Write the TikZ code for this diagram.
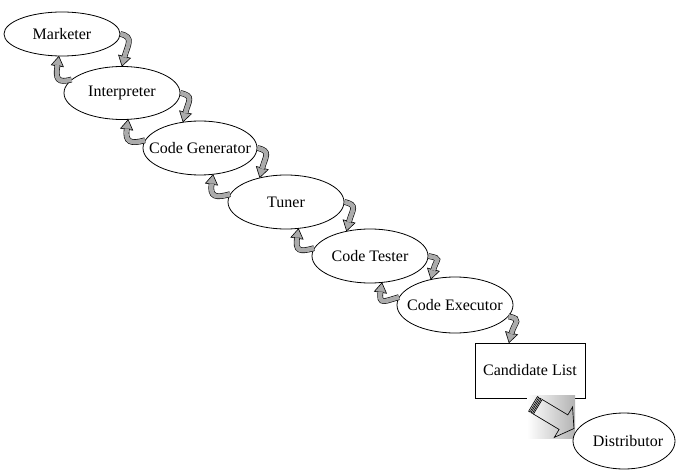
\documentclass[tikz,border=0pt]{standalone}
\usepackage{fontspec}
\setmainfont{Liberation Serif}
\usetikzlibrary{calc,shapes.geometric}

\tikzset{
  stage/.style={ellipse, draw, line width=0.6pt, fill=white, inner sep=0pt,
    minimum width=87pt, minimum height=40.5pt, font=\fontsize{12}{14}\selectfont},
  listbox/.style={rectangle, draw, line width=0.6pt, fill=white, inner sep=0pt,
    minimum width=82.5pt, minimum height=41.25pt, font=\fontsize{12}{14}\selectfont},
  curlband/.style={draw=black, line width=0.45pt, double=black!33, double distance=3.4pt},
  curlhead/.style={draw=black, fill=black!33, line width=0.45pt, line join=miter},
  bigarrow/.style={draw=black, line width=0.5pt, line join=miter},
}

% curled block arrow leaving an ellipse on its right and dropping onto the next one
\newcommand\downcurl[2]{%
  \coordinate (dT) at (#1);
  \coordinate (dP) at (#2);
  \coordinate (dH) at ($(dP)+(2.5,-9.5)$);
  \filldraw[curlhead] ($(dH)!4.6pt!90:(dP)$) -- (dP) -- ($(dH)!4.6pt!-90:(dP)$) -- cycle;
  \draw[curlband] (dT) .. controls ($(dT)+(14,3)$) and ($(dH)!-9pt!(dP)$) .. ($(dH)!0.6pt!(dP)$);
}
% curled block arrow leaving an ellipse on its left and climbing back to the previous one
\newcommand\upcurl[2]{%
  \coordinate (uT) at (#1);
  \coordinate (uP) at (#2);
  \coordinate (uH) at ($(uP)+(-1.5,9.5)$);
  \filldraw[curlhead] ($(uH)!4.6pt!90:(uP)$) -- (uP) -- ($(uH)!4.6pt!-90:(uP)$) -- cycle;
  \draw[curlband] (uT) .. controls ($(uT)+(-14,4)$) and ($(uH)!-10pt!(uP)$) .. ($(uH)!0.6pt!(uP)$);
}

\begin{document}
\begin{tikzpicture}[x=0.75pt, y=-0.75pt]
\useasboundingbox (0,0) rectangle (677,470);

% processing stages
\node[stage, minimum height=33pt] (mk) at (62,34) {\makebox[0pt]{Marketer}};
\node[stage, minimum height=39.75pt] (ip) at (122,93) {\makebox[0pt]{Interpreter}};
\node[stage, minimum width=85.5pt] (cg) at (200,148) {\makebox[0pt]{Code Generator}};
\node[stage] (tu) at (286,202) {\makebox[0pt]{Tuner}};
\node[stage] (ct) at (370,256) {\makebox[0pt]{Code Tester}};
\node[stage, minimum height=42pt] (ce) at (455,305) {\makebox[0pt]{Code Executor}};
\node[listbox] (cl) at (530,370.5) {Candidate List};

% shaded patch behind the striped arrow
\shade[left color=white, right color=black!30] ($(cl.south)+(-3,-2.5)$) rectangle ($(cl.south)+(45,40)$);

\node[stage, minimum width=76.5pt, minimum height=42pt] (di) at (624,441) {\makebox[0pt]{\hspace{6pt}Distributor}};

% striped arrow from the candidate list to the distributor
\begin{scope}[shift={($(cl.south)+(3,5.5)$)}, rotate=-31]
  \draw[bigarrow] (0,-8.5) rectangle (1.5,8.5);
  \draw[bigarrow] (2.8,-8.5) rectangle (4.3,8.5);
  \draw[bigarrow] (5.6,-8.5) -- (35.5,-8.5) -- (35.5,-17.7) -- (47.8,0)
                  -- (35.5,17.7) -- (35.5,8.5) -- (5.6,8.5) -- cycle;
\end{scope}

% hand-over arrows between consecutive stages
\downcurl{mk.east}{ip.90}
\upcurl{ip.165}{mk.-98}
\downcurl{ip.east}{cg.123}
\upcurl{cg.172}{ip.-77}
\downcurl{cg.east}{tu.137}
\upcurl{tu.172}{cg.-64}
\downcurl{tu.east}{ct.133}
\upcurl{ct.172}{tu.-65}
\downcurl{ct.east}{ce.133}
\upcurl{ce.172}{ct.-66}
\downcurl{ce.-12}{$(cl.north)+(-21,0)$}
\end{tikzpicture}
\end{document}
